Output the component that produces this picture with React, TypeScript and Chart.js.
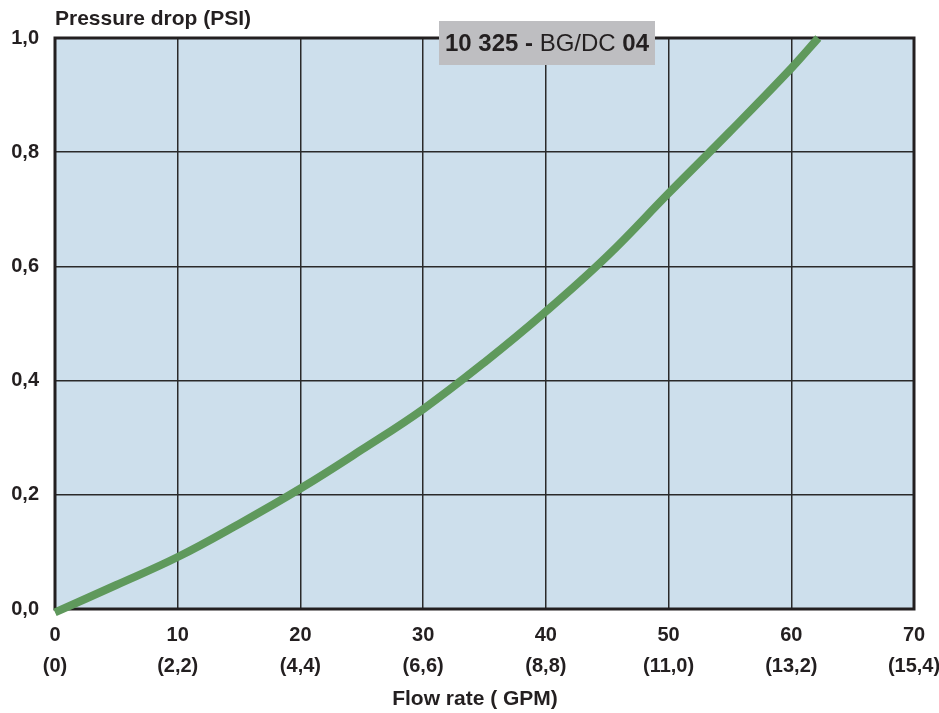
import React, { useEffect, useRef } from "react";
import { Chart, registerables } from "chart.js";

Chart.register(...registerables);

const flowRate = [0, 5, 10, 15, 20, 25, 30, 35, 40, 45, 50, 55, 60, 62.2];
const pressureDrop = [-0.006, 0.042, 0.091, 0.149, 0.211, 0.279, 0.35, 0.432, 0.521, 0.618, 0.728, 0.836, 0.947, 1.0];

const xTickTop = ["0", "10", "20", "30", "40", "50", "60", "70"];
const xTickBottom = ["(0)", "(2,2)", "(4,4)", "(6,6)", "(8,8)", "(11,0)", "(13,2)", "(15,4)"];

const yAxisTitle = "Pressure drop (PSI)";
const xAxisTitle = "Flow rate ( GPM)";
const titleParts: { text: string; bold: boolean }[] = [
  { text: "10 325 - ", bold: true },
  { text: "BG/DC ", bold: false },
  { text: "04", bold: true },
];

const FONT = "'Liberation Sans', Arial, Helvetica, sans-serif";
const TEXT = "#231f20";

const decorPlugin = {
  id: "decor",
  beforeDraw(chart: any) {
    const { ctx, chartArea: a } = chart;
    ctx.save();
    ctx.fillStyle = "#cddfec";
    ctx.fillRect(a.left, a.top, a.right - a.left, a.bottom - a.top);
    ctx.restore();
  },
  beforeDatasetsDraw(chart: any) {
    const { ctx, chartArea: a } = chart;
    ctx.save();
    ctx.strokeStyle = "#231f20";
    ctx.lineWidth = 3;
    ctx.strokeRect(a.left, a.top, a.right - a.left, a.bottom - a.top);
    ctx.restore();
  },
  afterDraw(chart: any) {
    const { ctx, chartArea: a } = chart;
    ctx.save();
    ctx.fillStyle = TEXT;
    ctx.font = `bold 21px ${FONT}`;
    ctx.textAlign = "left";
    ctx.textBaseline = "middle";
    ctx.fillText(yAxisTitle, a.left, 19);
    ctx.textAlign = "center";
    ctx.fillText(xAxisTitle, 475, 699);
    ctx.fillStyle = "#bebec1";
    ctx.fillRect(439, 21, 216, 44);
    ctx.textAlign = "left";
    let total = 0;
    const widths = titleParts.map((p) => {
      ctx.font = `${p.bold ? "bold " : ""}24px ${FONT}`;
      const w = ctx.measureText(p.text).width;
      total += w;
      return w;
    });
    let x = 547 - total / 2;
    ctx.fillStyle = TEXT;
    titleParts.forEach((p, i) => {
      ctx.font = `${p.bold ? "bold " : ""}24px ${FONT}`;
      ctx.fillText(p.text, x, 44);
      x += widths[i];
    });
    ctx.restore();
  },
};

export default function App() {
  const ref = useRef<HTMLCanvasElement | null>(null);
  useEffect(() => {
    if (!ref.current) return;
    const chart = new Chart(ref.current, {
      type: "line",
      data: {
        datasets: [
          {
            data: flowRate.map((x, i) => ({ x, y: pressureDrop[i] })),
            borderColor: "#5f995c",
            borderWidth: 8,
            pointRadius: 0,
            tension: 0.4,
            fill: false,
            clip: false as any,
            borderCapStyle: "butt",
          },
        ],
      },
      options: {
        animation: false,
        responsive: false,
        devicePixelRatio: 1,
        layout: { padding: { top: 38, right: 25, left: 0, bottom: 0 } },
        plugins: { legend: { display: false }, tooltip: { enabled: false } },
        scales: {
          x: {
            type: "linear",
            min: 0,
            max: 70,
            afterFit: (s: any) => {
              s.height = 104;
              s.paddingLeft = 0;
              s.paddingRight = 0;
            },
            border: { display: false },
            grid: { color: "#2a2a2a", lineWidth: 1.5, drawTicks: false },
            ticks: {
              stepSize: 10,
              padding: 10.5,
              color: TEXT,
              maxRotation: 0,
              autoSkip: false,
              font: { family: FONT, size: 20, weight: "bold", lineHeight: 1.55 },
              callback: (v: any) => {
                const i = Math.round(Number(v) / 10);
                return [xTickTop[i], xTickBottom[i]];
              },
            },
          },
          y: {
            type: "linear",
            min: 0,
            max: 1,
            afterFit: (s: any) => {
              s.width = 55;
              s.paddingTop = 0;
              s.paddingBottom = 0;
            },
            border: { display: false },
            grid: { color: "#2a2a2a", lineWidth: 1.5, drawTicks: false },
            ticks: {
              stepSize: 0.2,
              padding: 16,
              color: TEXT,
              font: { family: FONT, size: 20, weight: "bold" },
              callback: (v: any) => Number(v).toFixed(1).replace(".", ","),
            },
          },
        },
      },
      plugins: [decorPlugin],
    } as any);
    return () => chart.destroy();
  }, []);
  return (
    <div style={{ position: "absolute", left: 0, top: 0, width: 939, height: 713 }}>
      <canvas ref={ref} width={939} height={713} style={{ display: "block" }} />
    </div>
  );
}
